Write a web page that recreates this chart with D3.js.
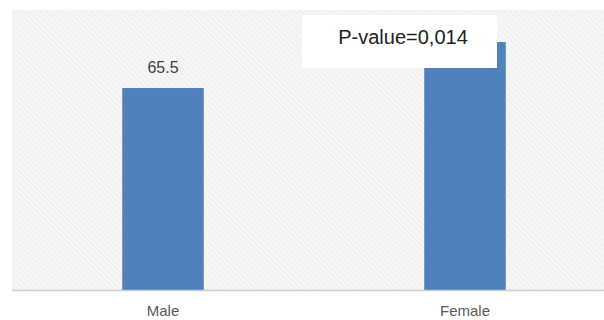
<!DOCTYPE html>
<html><head><meta charset="utf-8">
<script src="https://cdn.jsdelivr.net/npm/d3@7"></script>
<style>body{margin:0;background:#fff}svg{display:block}</style>
</head><body>
<svg id="c" width="604" height="320"></svg>
<script>
const categories = ["Male", "Female"];
const values = [65.5, 80.4];
// Female value label is hidden behind the P-value box in the reference
const valueLabels = ["65.5", null];
const annotation = "P-value=0,014";

const svg = d3.select("#c");
const W = 604, H = 320;
const plot = {left: 12, right: 616, top: 10, bottom: 290};
const font = "Liberation Sans, Arial, sans-serif";

const defs = svg.append("defs");
const pat = defs.append("pattern").attr("id", "hatch").attr("patternUnits", "userSpaceOnUse")
  .attr("width", 4).attr("height", 4).attr("patternTransform", "rotate(-45)");
pat.append("rect").attr("width", 4).attr("height", 4).attr("fill", "#f6f6f6");
pat.append("line").attr("x1", 0).attr("y1", 0).attr("x2", 0).attr("y2", 4)
  .attr("stroke", "#e8e8e8").attr("stroke-width", 1.2);

svg.append("rect").attr("x", plot.left).attr("y", plot.top)
  .attr("width", W - plot.left).attr("height", plot.bottom - plot.top).attr("fill", "url(#hatch)");

const x = d3.scaleBand().domain(categories).range([plot.left, plot.right])
  .paddingInner(0.73).paddingOuter(0.365);
const y = d3.scaleLinear().domain([0, 90.8]).range([plot.bottom, plot.top]);

svg.selectAll("rect.bar").data(categories).join("rect").attr("class", "bar")
  .attr("x", d => x(d)).attr("width", x.bandwidth())
  .attr("y", (d, i) => y(values[i])).attr("height", (d, i) => y(0) - y(values[i]))
  .attr("fill", "#4f81bd");

svg.selectAll("text.vl").data(categories.filter((d, i) => valueLabels[i] !== null)).join("text").attr("class", "vl")
  .attr("x", d => x(d) + x.bandwidth() / 2)
  .attr("y", d => y(values[categories.indexOf(d)]) - 15)
  .attr("text-anchor", "middle").attr("font-family", font)
  .attr("font-size", 16).attr("fill", "#404040")
  .text(d => valueLabels[categories.indexOf(d)]);

const axis = d3.axisBottom(x).tickSize(0);
const ax = svg.append("g").attr("transform", `translate(0,${plot.bottom})`).call(axis);
ax.select(".domain").attr("stroke", "#d0d0d0").attr("stroke-width", 1.5);
ax.selectAll("text").attr("font-family", font).attr("y", 26).attr("dy", 0)
  .attr("font-size", 15).attr("fill", "#595959");

// annotation box
svg.append("rect").attr("x", 302).attr("y", 15).attr("width", 195).attr("height", 53).attr("fill", "#fff");
svg.append("text").attr("x", 403).attr("y", 44).attr("text-anchor", "middle")
  .attr("font-family", font).attr("font-size", 20)
  .attr("fill", "#222").text(annotation);
</script>
</body></html>
